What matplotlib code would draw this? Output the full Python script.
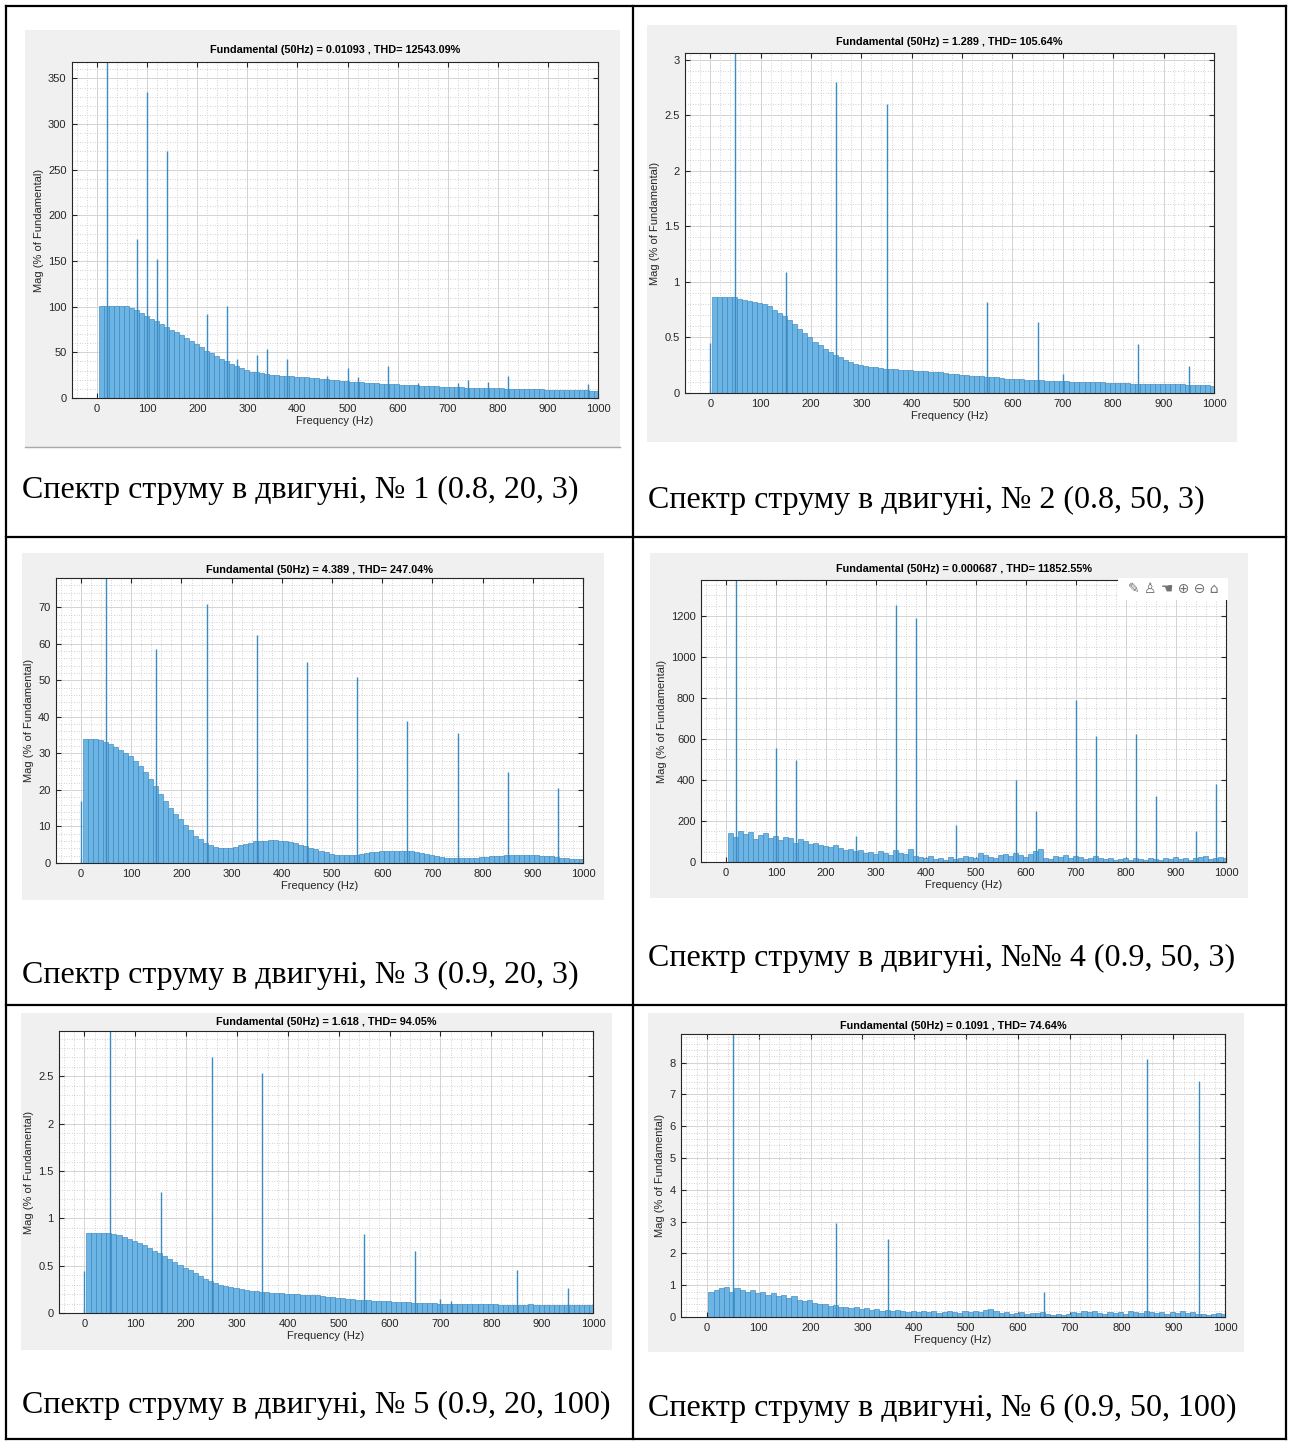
import numpy as np
import matplotlib
matplotlib.use("Agg")
import matplotlib.pyplot as plt
from matplotlib.patches import Rectangle
from matplotlib.lines import Line2D
from matplotlib.ticker import MultipleLocator, FormatStrFormatter

W, H = 1290, 1443

# 10 Hz bins (left edges), bulk spectrum starts a few Hz above 0
bin_left = np.arange(3, 1000, 10)

env1 = [101, 101, 101, 101, 101, 101, 99, 96, 93, 90,
        87, 84, 81, 78, 75, 72, 69, 66, 62, 59,
        56, 52, 49, 46, 43, 40, 37, 35, 33, 31,
        29, 28, 27, 26, 25.5, 25, 24.5, 24, 24, 23.5,
        23, 22.5, 22, 21.5, 21, 20.5, 20, 19.5, 19, 18.5,
        18, 17.5, 17, 16.5, 16, 16, 15.5, 15.5, 15, 15,
        14.5, 14.5, 14, 14, 13.5, 13.5, 13, 13, 12.5, 12.5,
        12, 12, 12, 11.5, 11.5, 11, 11, 11, 10.5, 10.5,
        10.5, 10, 10, 10, 10, 9.5, 9.5, 9.5, 9.5, 9,
        9, 9, 9, 9, 8.5, 8.5, 8.5, 8.5, 8, 8]
spk1_f = [20, 80, 100, 120, 140, 220, 260, 280, 320, 340, 380, 460, 500, 520, 580, 640, 720, 740, 780, 820, 980]
spk1_h = [370, 174, 335, 152, 270, 92, 101, 43, 47, 54, 43, 24, 33, 23, 35, 16, 16, 20, 17, 24, 15]

env2 = [0.86, 0.86, 0.86, 0.86, 0.86, 0.85, 0.84, 0.83, 0.82, 0.81,
        0.80, 0.78, 0.75, 0.72, 0.69, 0.66, 0.62, 0.58, 0.54, 0.50,
        0.46, 0.43, 0.40, 0.37, 0.34, 0.32, 0.295, 0.275, 0.26, 0.25,
        0.24, 0.235, 0.23, 0.225, 0.22, 0.22, 0.215, 0.21, 0.21, 0.205,
        0.20, 0.20, 0.195, 0.19, 0.19, 0.185, 0.18, 0.175, 0.17, 0.165,
        0.16, 0.155, 0.15, 0.15, 0.145, 0.14, 0.14, 0.135, 0.13, 0.13,
        0.125, 0.125, 0.12, 0.12, 0.115, 0.115, 0.11, 0.11, 0.11, 0.105,
        0.105, 0.10, 0.10, 0.10, 0.10, 0.095, 0.095, 0.095, 0.09, 0.09,
        0.09, 0.09, 0.09, 0.085, 0.085, 0.085, 0.085, 0.085, 0.08, 0.08,
        0.08, 0.08, 0.08, 0.08, 0.075, 0.075, 0.075, 0.075, 0.07, 0.065]
spk2_f = [0, 50, 150, 250, 350, 550, 650, 700, 850, 950]
spk2_h = [0.45, 3.1, 1.09, 2.8, 2.6, 0.82, 0.64, 0.17, 0.44, 0.24]

env3 = [34, 34, 34, 33.7, 33.2, 32.5, 31.8, 31, 30.2, 29.2,
        28, 26.5, 25, 23, 21, 19, 17, 15, 13.5, 12,
        10.5, 9, 7.5, 6.5, 5.5, 5, 4.5, 4.2, 4, 4.2,
        4.5, 5, 5.3, 5.6, 5.9, 6, 6.1, 6.2, 6.2, 6.1,
        6, 5.7, 5.4, 5, 4.6, 4.2, 3.8, 3.3, 2.9, 2.5,
        2.2, 2.1, 2.1, 2.2, 2.3, 2.5, 2.7, 2.9, 3.1, 3.2,
        3.3, 3.35, 3.4, 3.4, 3.3, 3.2, 3, 2.7, 2.4, 2.1,
        1.9, 1.7, 1.5, 1.4, 1.3, 1.3, 1.3, 1.4, 1.5, 1.6,
        1.7, 1.8, 1.9, 2, 2.1, 2.1, 2.2, 2.2, 2.2, 2.2,
        2.1, 2, 1.9, 1.8, 1.6, 1.5, 1.4, 1.2, 1.1, 1]
spk3_f = [0, 50, 150, 250, 350, 450, 550, 650, 750, 850, 950]
spk3_h = [17, 80, 58.5, 71, 62.5, 55, 51, 39, 35.5, 25, 20.5]

env4 = [140, 120, 150, 135, 145, 110, 130, 140, 115, 125,
        105, 120, 115, 95, 110, 100, 90, 95, 85, 80,
        75, 85, 70, 60, 65, 55, 60, 45, 50, 40,
        55, 45, 35, 60, 45, 40, 65, 30, 25, 20,
        30, 15, 20, 10, 25, 15, 20, 30, 25, 20,
        45, 35, 25, 20, 35, 40, 30, 45, 35, 25,
        40, 55, 65, 20, 15, 30, 25, 35, 20, 30,
        25, 15, 20, 30, 20, 15, 20, 10, 15, 20,
        10, 20, 15, 10, 20, 15, 10, 20, 15, 25,
        15, 20, 10, 20, 25, 30, 15, 20, 25, 20]
spk4_f = [20, 100, 140, 260, 340, 380, 460, 580, 620, 700, 740, 820, 860, 940, 980]
spk4_h = [1400, 555, 495, 125, 1255, 1190, 180, 400, 250, 790, 615, 625, 320, 150, 380]

env5 = [0.85, 0.85, 0.85, 0.85, 0.85, 0.84, 0.82, 0.80, 0.78, 0.76,
        0.74, 0.72, 0.69, 0.66, 0.63, 0.60, 0.57, 0.54, 0.51, 0.48,
        0.45, 0.42, 0.39, 0.36, 0.34, 0.32, 0.30, 0.285, 0.27, 0.26,
        0.25, 0.24, 0.235, 0.23, 0.225, 0.22, 0.215, 0.21, 0.21, 0.205,
        0.20, 0.20, 0.195, 0.19, 0.19, 0.185, 0.175, 0.17, 0.165, 0.16,
        0.155, 0.15, 0.145, 0.14, 0.14, 0.135, 0.13, 0.13, 0.125, 0.125,
        0.12, 0.12, 0.115, 0.115, 0.11, 0.11, 0.11, 0.105, 0.105, 0.10,
        0.10, 0.10, 0.10, 0.095, 0.095, 0.095, 0.09, 0.09, 0.09, 0.09,
        0.09, 0.085, 0.085, 0.085, 0.085, 0.085, 0.085, 0.09, 0.085, 0.085,
        0.08, 0.08, 0.08, 0.08, 0.08, 0.08, 0.08, 0.08, 0.08, 0.08]
spk5_f = [0, 50, 150, 250, 350, 550, 650, 700, 720, 850, 950]
spk5_h = [0.44, 3.0, 1.28, 2.71, 2.54, 0.84, 0.65, 0.15, 0.13, 0.45, 0.26]

env6 = [0.8, 0.85, 0.9, 0.95, 0.8, 0.9, 0.85, 0.8, 0.85, 0.75,
        0.8, 0.7, 0.75, 0.65, 0.7, 0.6, 0.65, 0.55, 0.5, 0.55,
        0.45, 0.4, 0.42, 0.35, 0.38, 0.3, 0.32, 0.28, 0.3, 0.25,
        0.28, 0.22, 0.25, 0.2, 0.22, 0.18, 0.22, 0.2, 0.15, 0.18,
        0.16, 0.2, 0.15, 0.18, 0.12, 0.16, 0.2, 0.15, 0.12, 0.18,
        0.15, 0.2, 0.15, 0.22, 0.25, 0.2, 0.12, 0.15, 0.1, 0.12,
        0.15, 0.1, 0.14, 0.12, 0.15, 0.1, 0.05, 0.08, 0.06, 0.1,
        0.15, 0.12, 0.18, 0.15, 0.2, 0.12, 0.1, 0.15, 0.12, 0.15,
        0.1, 0.2, 0.15, 0.12, 0.2, 0.15, 0.12, 0.15, 0.1, 0.15,
        0.12, 0.18, 0.12, 0.15, 0.1, 0.08, 0.05, 0.1, 0.12, 0.08]
spk6_f = [50, 250, 350, 650, 850, 950]
spk6_h = [9.0, 2.97, 2.45, 0.78, 8.1, 7.42]

titles = [
    "Fundamental (50Hz) = 0.01093 , THD= 12543.09%",
    "Fundamental (50Hz) = 1.289 , THD= 105.64%",
    "Fundamental (50Hz) = 4.389 , THD= 247.04%",
    "Fundamental (50Hz) = 0.000687 , THD= 11852.55%",
    "Fundamental (50Hz) = 1.618 , THD= 94.05%",
    "Fundamental (50Hz) = 0.1091 , THD= 74.64%",
]
captions = [
    "Спектр струму в двигуні, № 1 (0.8, 20, 3)",
    "Спектр струму в двигуні, № 2 (0.8, 50, 3)",
    "Спектр струму в двигуні, № 3 (0.9, 20, 3)",
    "Спектр струму в двигуні, №№ 4 (0.9, 50, 3)",
    "Спектр струму в двигуні, № 5 (0.9, 20, 100)",
    "Спектр струму в двигуні, № 6 (0.9, 50, 100)",
]
envs = [env1, env2, env3, env4, env5, env6]
spikes = [(spk1_f, spk1_h), (spk2_f, spk2_h), (spk3_f, spk3_h),
          (spk4_f, spk4_h), (spk5_f, spk5_h), (spk6_f, spk6_h)]

# layout in pixels: screenshot panel box, axes box, title y, y-limit, y-ticks step, minor step
panels = [
    dict(bg=(25, 30, 620, 447), ax=(72, 62, 598, 398), ty=50, ymax=368, step=50, minor=10),
    dict(bg=(647, 25, 1237, 442), ax=(685, 53, 1214, 393), ty=42, ymax=3.06, step=0.5, minor=0.1),
    dict(bg=(22, 553, 604, 900), ax=(56, 578, 583, 863), ty=570, ymax=78, step=10, minor=2),
    dict(bg=(650, 553, 1248, 898), ax=(701, 580, 1226, 862), ty=569, ymax=1375, step=200, minor=50),
    dict(bg=(21, 1013, 612, 1350), ax=(59, 1031, 593, 1313), ty=1022, ymax=2.98, step=0.5, minor=0.1),
    dict(bg=(648, 1013, 1244, 1352), ax=(681, 1034, 1225, 1317), ty=1026, ymax=8.9, step=1, minor=0.2),
]
cap_pos = [(22, 490), (648, 500), (22, 975), (648, 958), (22, 1405), (648, 1408)]

BAR = "#6cb4e4"
EDGE = "#3a87be"
SPIKE = "#3b8bc2"
INK = "#262626"
SANS = "Liberation Sans"

fig = plt.figure(figsize=(W / 100, H / 100), dpi=100)


def fx(x):
    return x / W


def fy(y):
    return 1 - y / H


# table borders
for (x0, y0, x1, y1) in [(6, 6, 1286, 6), (6, 1439, 1286, 1439), (6, 6, 6, 1439),
                         (1286, 6, 1286, 1439), (633, 6, 633, 1439),
                         (6, 537, 1286, 537), (6, 1005, 1286, 1005)]:
    fig.add_artist(Line2D([fx(x0), fx(x1)], [fy(y0), fy(y1)], color="black", lw=1.6))

for i, p in enumerate(panels):
    bx0, by0, bx1, by1 = p["bg"]
    fig.add_artist(Rectangle((fx(bx0), fy(by1)), fx(bx1 - bx0), (by1 - by0) / H,
                             facecolor="#f0f0f0", edgecolor="none", zorder=0))
    if i == 0:
        fig.add_artist(Line2D([fx(bx0), fx(bx1)], [fy(by1), fy(by1)], color="#a8a8a8", lw=1.0))

    ax0, ay0, ax1, ay1 = p["ax"]
    ax = fig.add_axes([fx(ax0), fy(ay1), fx(ax1 - ax0), (ay1 - ay0) / H])
    ax.set_facecolor("white")
    ax.set_axisbelow(True)
    ax.bar(bin_left, envs[i], width=10, align="edge", color=BAR, edgecolor=EDGE, linewidth=0.45)
    sf, sh = spikes[i]
    ax.vlines(sf, 0, sh, color=SPIKE, lw=1.0)
    ax.set_xlim(-50, 1000)
    ax.set_ylim(0, p["ymax"])
    ax.xaxis.set_major_locator(MultipleLocator(100))
    ax.xaxis.set_minor_locator(MultipleLocator(20))
    ax.yaxis.set_major_locator(MultipleLocator(p["step"]))
    ax.yaxis.set_minor_locator(MultipleLocator(p["minor"]))
    ax.yaxis.set_major_formatter(FormatStrFormatter("%g"))
    ax.grid(which="major", color="#d3d3d3", lw=0.7)
    ax.grid(which="minor", color="#c4c4c4", lw=0.6, ls=(0, (1, 2)))
    ax.tick_params(which="major", direction="in", top=True, right=True, length=3.5,
                   width=0.8, color=INK, labelsize=8, labelcolor=INK, pad=4)
    ax.tick_params(which="minor", length=0)
    for lab in ax.get_xticklabels() + ax.get_yticklabels():
        lab.set_family(SANS)
    for s in ax.spines.values():
        s.set_color(INK)
        s.set_linewidth(0.8)
    ax.set_xlabel("Frequency (Hz)", fontsize=8, family=SANS, color=INK, labelpad=2)
    ax.set_ylabel("Mag (% of Fundamental)", fontsize=8, family=SANS, color=INK, labelpad=3)
    fig.text(fx((ax0 + ax1) / 2), fy(p["ty"]), titles[i], ha="center", va="center",
             fontsize=7.8, fontweight="bold", family=SANS, color="black")

    if i == 3:
        # figure toolbar overlay of the screenshot
        fig.add_artist(Rectangle((fx(1118), fy(600)), fx(110), 22 / H,
                                 facecolor="white", edgecolor="none", zorder=5))
        fig.text(fx(1173), fy(589), "✎ ♙ ☚ ⊕ ⊖ ⌂", ha="center", va="center",
                 fontsize=10, color="#707070", family="DejaVu Sans", zorder=6)

for cap, (cx, cy) in zip(captions, cap_pos):
    fig.text(fx(cx), fy(cy), cap, ha="left", va="center", fontsize=23,
             family="Liberation Serif", color="black")

fig.savefig("out.png", dpi=100, facecolor="white")
